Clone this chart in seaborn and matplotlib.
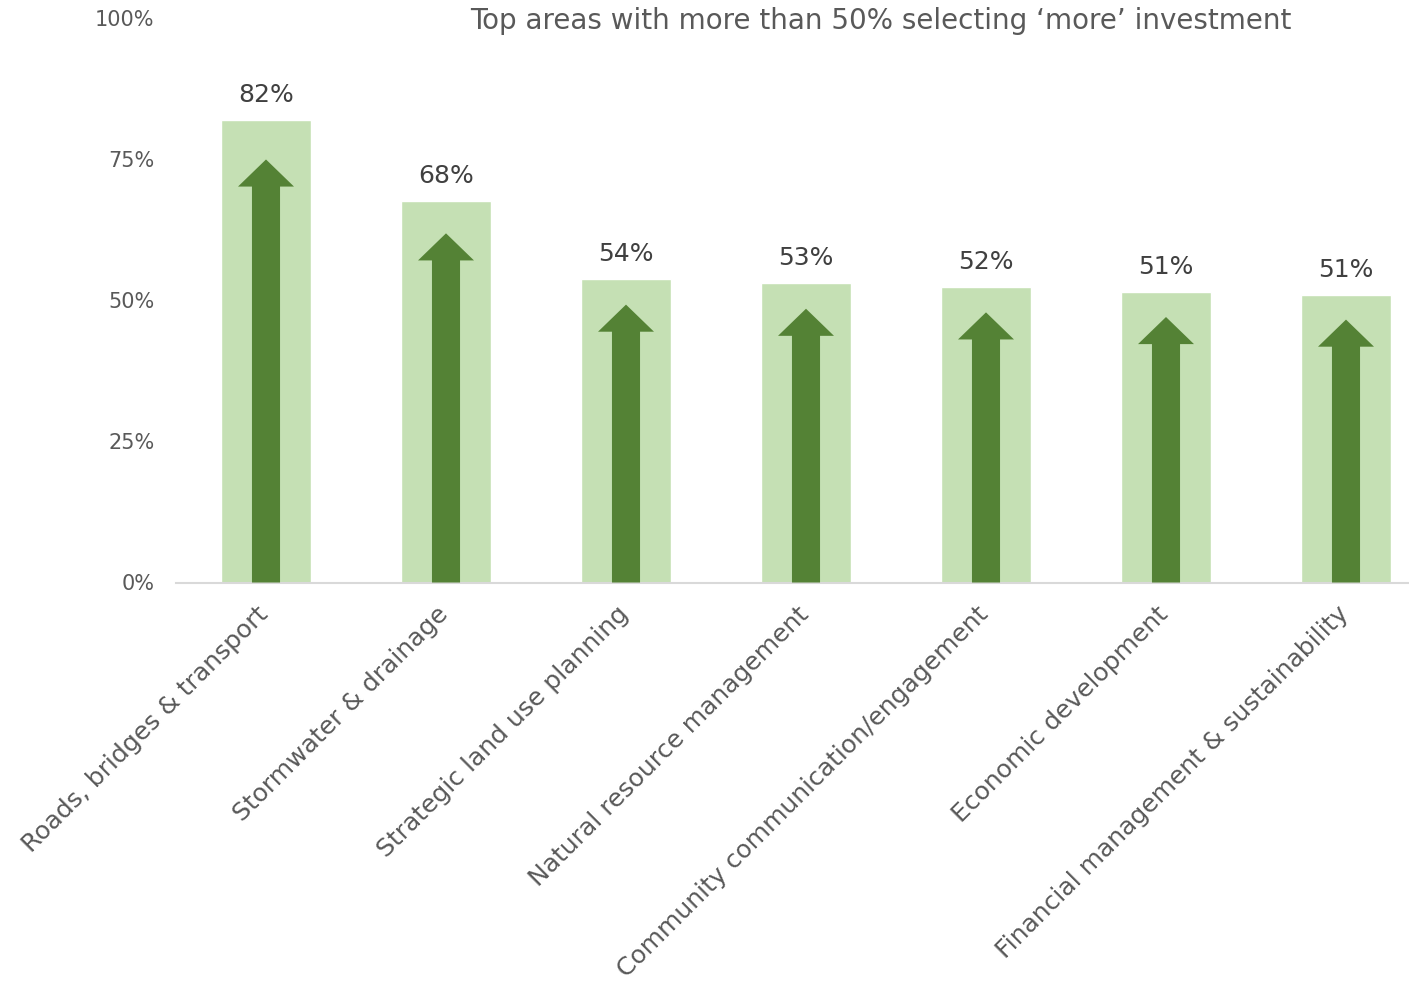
import matplotlib
matplotlib.use("Agg")
import matplotlib.pyplot as plt
from matplotlib.patches import FancyArrow
from matplotlib.ticker import FixedLocator, FuncFormatter
from matplotlib.transforms import ScaledTranslation
import seaborn as sns
import pandas as pd

categories = [
    "Roads, bridges & transport",
    "Stormwater & drainage",
    "Strategic land use planning",
    "Natural resource management",
    "Community communication/engagement",
    "Economic development",
    "Financial management & sustainability",
]
more_pct = [81.9, 67.6, 53.8, 53.0, 52.3, 51.4, 50.9]
y_ticks = [0, 25, 50, 75, 100]
title = "Top areas with more than 50% selecting \u2018more\u2019 investment"

LIGHT = "#C5E0B4"
DARK = "#548235"
GREY_TXT = "#595959"
LABEL_TXT = "#404040"

sns.set_theme(style="white")
plt.rcParams["font.family"] = ["DejaVu Sans"]

df = pd.DataFrame({"area": categories, "pct": more_pct})

fig = plt.figure(figsize=(14.09, 10.01), dpi=100)
ax = fig.add_axes([176 / 1409, 418.5 / 1001, 1233 / 1409, 564.5 / 1001])

sns.barplot(data=df, x="area", y="pct", color=LIGHT, saturation=1,
            width=0.5, ax=ax, errorbar=None)

# arrows rising from the baseline inside each bar
for i, v in enumerate(df["pct"]):
    tip = v * 0.915
    ax.add_patch(FancyArrow(i, 0, 0, tip, width=0.156, head_width=0.311,
                            head_length=4.8, length_includes_head=True,
                            color=DARK, linewidth=0, zorder=3))
    ax.annotate(f"{v:.0f}%", xy=(i, v), xytext=(0, 13),
                textcoords="offset points", ha="center", va="baseline",
                fontsize=18, color=LABEL_TXT)

ax.set_xlim(-0.5, 6.35)
ax.set_ylim(0, 100)
ax.yaxis.set_major_locator(FixedLocator(y_ticks))
ax.yaxis.set_major_formatter(FuncFormatter(lambda y, _: f"{y:.0f}%"))
ax.set_xlabel("")
ax.set_ylabel("")

for s in ["top", "right", "left"]:
    ax.spines[s].set_visible(False)
ax.spines["bottom"].set_color("#D9D9D9")
ax.spines["bottom"].set_linewidth(1.5)

ax.tick_params(axis="y", length=0, pad=15.5, labelsize=15, labelcolor=GREY_TXT)
ax.tick_params(axis="x", length=0, pad=14, labelsize=18, labelcolor=GREY_TXT)
shift = ScaledTranslation(-7 / 72, 0, fig.dpi_scale_trans)
for lbl in ax.get_xticklabels():
    lbl.set_rotation(45)
    lbl.set_ha("right")
    lbl.set_rotation_mode("anchor")
    lbl.set_transform(lbl.get_transform() + shift)

fig.text(881 / 1409, 1 - 21 / 1001, title, ha="center", va="center",
         fontsize=20, color=GREY_TXT)

fig.savefig("out.png", dpi=100, facecolor="white")
